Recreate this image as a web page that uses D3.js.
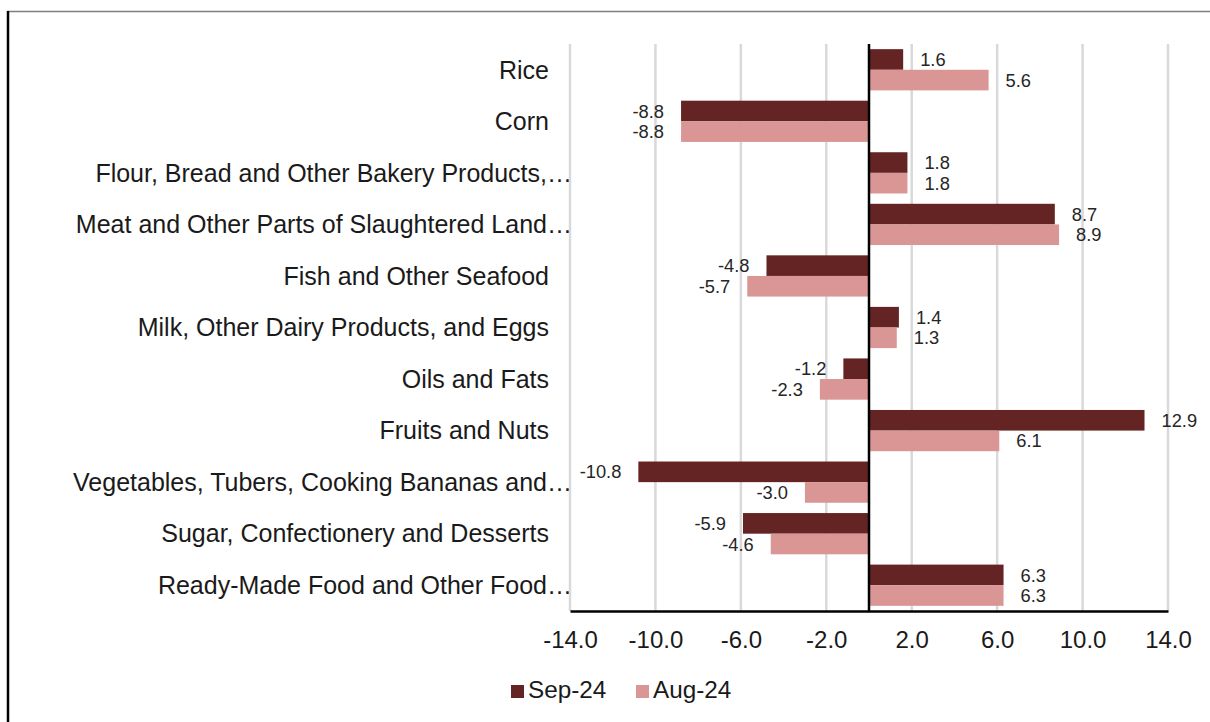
<!DOCTYPE html>
<html>
<head>
<meta charset="utf-8">
<script src="https://cdn.jsdelivr.net/npm/d3@7/dist/d3.min.js"></script>
<style>
  html, body { margin: 0; padding: 0; background: #fff; }
  svg { display: block; font-family: Arial, "Liberation Sans", sans-serif; }
</style>
</head>
<body>
<svg id="chart" width="1210" height="722"></svg>
<script>
// Food price change by group, two months compared
const categories = [
  "Rice",
  "Corn",
  "Flour, Bread and Other Bakery Products,…",
  "Meat and Other Parts of Slaughtered Land…",
  "Fish and Other Seafood",
  "Milk, Other Dairy Products, and Eggs",
  "Oils and Fats",
  "Fruits and Nuts",
  "Vegetables, Tubers, Cooking Bananas and…",
  "Sugar, Confectionery and Desserts",
  "Ready-Made Food and Other Food…"
];
const seriesNames = ["Sep-24", "Aug-24"];
const sep24 = [1.6, -8.8, 1.8, 8.7, -4.8, 1.4, -1.2, 12.9, -10.8, -5.9, 6.3];
const aug24 = [5.6, -8.8, 1.8, 8.9, -5.7, 1.3, -2.3, 6.1, -3.0, -4.6, 6.3];
const tickValues = [-14, -10, -6, -2, 2, 6, 10, 14];

const colors = { "Sep-24": "#632423", "Aug-24": "#d99694" };
const seriesValues = { "Sep-24": sep24, "Aug-24": aug24 };

const svg = d3.select("#chart");
const plot = { left: 570, right: 1168, top: 44, bottom: 611 };

const fmt = d3.formatLocale({
  decimal: ".", thousands: ",", grouping: [3], currency: ["", ""], minus: "-"
}).format(".1f");

const x = d3.scaleLinear().domain([-14, 14]).range([plot.left, plot.right]);
const y = d3.scaleBand().domain(categories).range([plot.top, plot.bottom])
  .paddingInner(0.2).paddingOuter(0.1);
const ySub = d3.scaleBand().domain(seriesNames).range([0, y.bandwidth()]);

// frame edges
svg.append("line").attr("x1", 7).attr("x2", 1210).attr("y1", 11.5).attr("y2", 11.5)
  .attr("stroke", "#7f7f7f").attr("stroke-width", 1.5);
svg.append("line").attr("x1", 8).attr("x2", 8).attr("y1", 11).attr("y2", 722)
  .attr("stroke", "#000").attr("stroke-width", 2.5);

// vertical gridlines
svg.append("g").selectAll("line").data(tickValues).join("line")
  .attr("x1", d => x(d)).attr("x2", d => x(d))
  .attr("y1", plot.top).attr("y2", plot.bottom)
  .attr("stroke", "#d9d9d9").attr("stroke-width", 2.5);

// bars
const rows = categories.map((c, i) => ({ c, i }));
const groups = svg.append("g").selectAll("g").data(rows).join("g")
  .attr("transform", d => `translate(0,${y(d.c)})`);

groups.selectAll("rect")
  .data(d => seriesNames.map(s => ({ s, v: seriesValues[s][d.i] })))
  .join("rect")
  .attr("x", d => Math.min(x(0), x(d.v)))
  .attr("width", d => Math.abs(x(d.v) - x(0)))
  .attr("y", d => ySub(d.s))
  .attr("height", ySub.bandwidth())
  .attr("fill", d => colors[d.s]);

// value labels
groups.selectAll("text")
  .data(d => seriesNames.map(s => ({ s, v: seriesValues[s][d.i] })))
  .join("text")
  .attr("x", d => d.v >= 0 ? x(d.v) + 17 : x(d.v) - 17)
  .attr("y", d => ySub(d.s) + ySub.bandwidth() / 2)
  .attr("dy", "0.36em")
  .attr("text-anchor", d => d.v >= 0 ? "start" : "end")
  .attr("font-size", 18.3)
  .attr("fill", "#262626")
  .text(d => fmt(d.v));

// zero line
svg.append("line").attr("x1", x(0)).attr("x2", x(0))
  .attr("y1", plot.top).attr("y2", plot.bottom)
  .attr("stroke", "#000").attr("stroke-width", 2.5);

// category labels
svg.append("g").selectAll("text").data(categories).join("text")
  .attr("x", d => d.endsWith("…") ? 572 : 549)
  .attr("y", d => y(d) + y.bandwidth() / 2)
  .attr("dy", "0.35em")
  .attr("text-anchor", "end")
  .attr("font-size", 25)
  .attr("fill", "#1a1a1a")
  .text(d => d);

// x axis
const xAxis = svg.append("g")
  .attr("transform", `translate(0,${plot.bottom})`)
  .call(d3.axisBottom(x).tickValues(tickValues).tickFormat(fmt).tickSize(0).tickPadding(20));
xAxis.select(".domain").attr("stroke", "#000").attr("stroke-width", 2.5);
xAxis.selectAll("text").attr("font-size", 24).attr("fill", "#1a1a1a")
  .attr("font-family", "Arial, 'Liberation Sans', sans-serif");

// legend
const legend = svg.append("g");
const legendX = [511, 636];
seriesNames.forEach((s, i) => {
  legend.append("rect").attr("x", legendX[i]).attr("y", 685)
    .attr("width", 13).attr("height", 13).attr("fill", colors[s]);
  legend.append("text").attr("x", legendX[i] + 17).attr("y", 698)
    .attr("font-size", 24.3).attr("fill", "#1a1a1a").text(s);
});
</script>
</body>
</html>
